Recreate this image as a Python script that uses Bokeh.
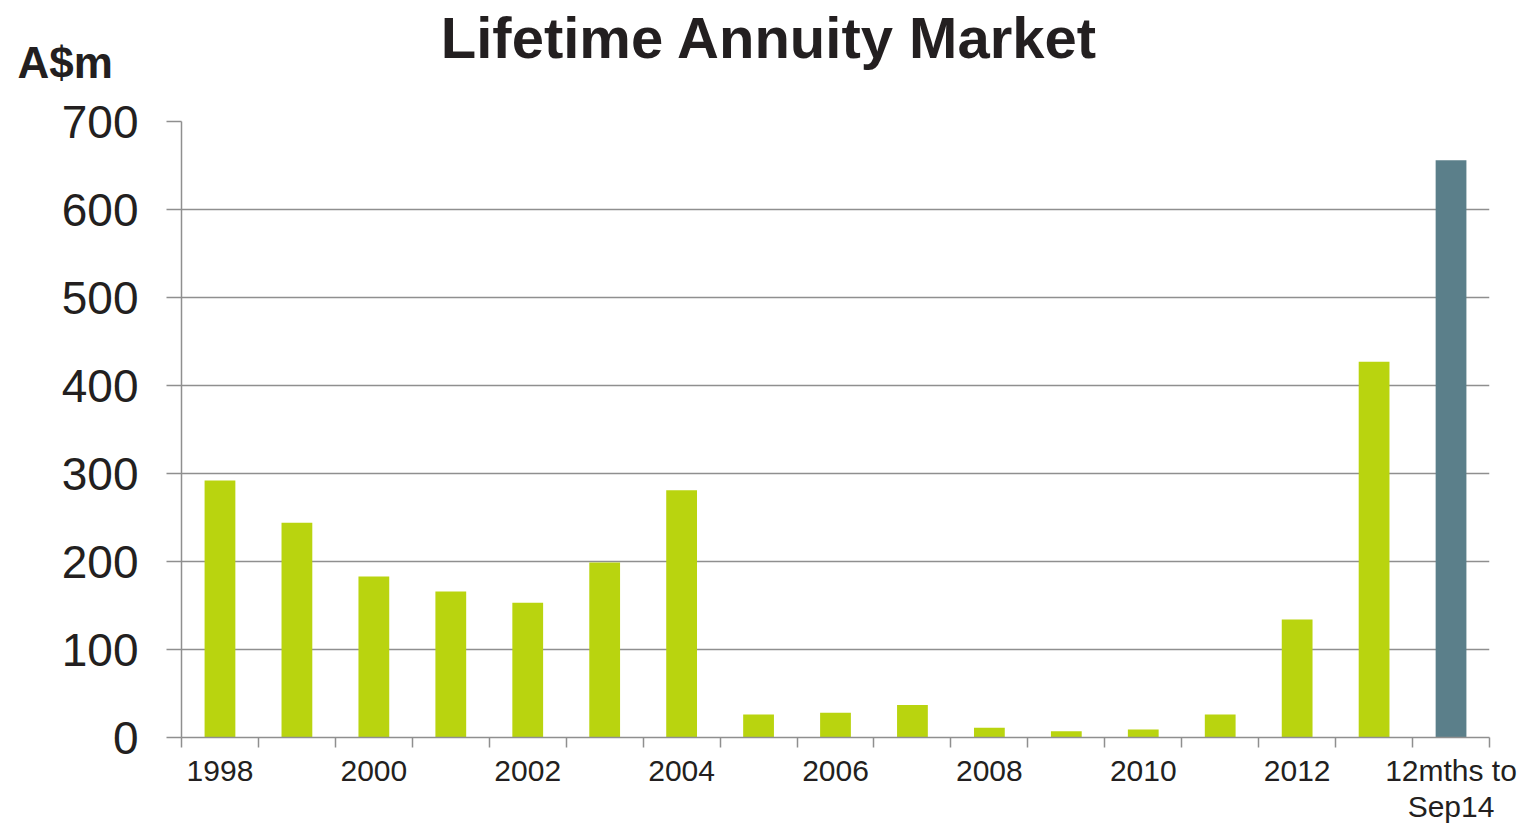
from bokeh.plotting import figure
from bokeh.models import FixedTicker, Range1d
from bokeh.layouts import column
from bokeh.core.properties import value
from bokeh.embed import file_html
from bokeh.resources import INLINE

categories = ["1998", "1999", "2000", "2001", "2002", "2003", "2004", "2005", "2006",
              "2007", "2008", "2009", "2010", "2011", "2012", "2013", "12mths to\nSep14"]
values = [292, 244, 183, 166, 153, 199, 281, 26, 28, 37, 11, 7, 9, 26, 134, 427, 656]
colors = ["#b9d40f"] * 16 + ["#5b7f8a"]
tick_labels = ["1998", "2000", "2002", "2004", "2006", "2008", "2010", "2012", "12mths to\nSep14"]
y_ticks = [0, 100, 200, 300, 400, 500, 600, 700]
chart_title = "Lifetime Annuity Market"
unit_text = "A$m"

FONT = "Liberation Sans"
TXT = "#231f20"
GRAY = "#8f8f8f"

W, H = 1523, 827
HEAD_H = 91

# ---- heading strip (title and unit label); y counts pixels down from the top ----
head = figure(width=W, height=HEAD_H, output_backend="svg", toolbar_location=None,
              title_location=None,
              x_range=Range1d(0, W), y_range=Range1d(HEAD_H, 0),
              x_axis_type=None, y_axis_type=None,
              min_border_left=0, min_border_right=0, min_border_top=0, min_border_bottom=0)
head.frame_align = False
head.outline_line_color = None
head.xgrid.visible = False
head.ygrid.visible = False
head.text(x=[769], y=[37], text=[chart_title], text_font=value(FONT),
          text_font_style="bold", text_font_size="58px", text_color=TXT,
          text_align="center", text_baseline="middle")
head.text(x=[17], y=[62], text=[unit_text], text_font=value(FONT),
          text_font_style="bold", text_font_size="44px", text_color=TXT,
          text_align="left", text_baseline="middle")

# ---- main chart ----
n = len(categories)
centers = [i + 0.5 for i in range(n)]

p = figure(width=W, height=H - HEAD_H, output_backend="svg", toolbar_location=None,
           title_location=None,
           x_range=Range1d(0, n), y_range=Range1d(0, 700),
           min_border_left=181, min_border_right=34, min_border_top=30, min_border_bottom=90)
p.frame_align = False
p.outline_line_color = None

p.vbar(x=centers, top=values, width=0.4, fill_color=colors, line_color=None)

# y axis
p.yaxis.ticker = FixedTicker(ticks=y_ticks)
p.yaxis.axis_line_color = GRAY
p.yaxis.axis_line_width = 1.5
p.yaxis.major_tick_line_color = GRAY
p.yaxis.major_tick_line_width = 1.5
p.yaxis.major_tick_out = 15
p.yaxis.major_tick_in = 0
p.yaxis.minor_tick_line_color = None
p.yaxis.major_label_text_font = FONT
p.yaxis.major_label_text_font_size = "46px"
p.yaxis.major_label_text_color = TXT
p.yaxis.major_label_standoff = 28

# x axis: labels at every other category center, ticks at category boundaries
label_pos = [centers[i] for i in range(0, n, 2)]
p.xaxis.ticker = FixedTicker(ticks=label_pos, minor_ticks=list(range(n + 1)))
p.xaxis.major_label_overrides = {pos: lab for pos, lab in zip(label_pos, tick_labels)}
p.xaxis.axis_line_color = GRAY
p.xaxis.axis_line_width = 1.5
p.xaxis.major_tick_line_color = None
p.xaxis.major_tick_out = 0
p.xaxis.major_tick_in = 0
p.xaxis.minor_tick_line_color = GRAY
p.xaxis.minor_tick_line_width = 1.5
p.xaxis.minor_tick_out = 10
p.xaxis.minor_tick_in = 0
p.xaxis.major_label_text_font = FONT
p.xaxis.major_label_text_font_size = "30px"
p.xaxis.major_label_text_color = TXT
p.xaxis.major_label_text_line_height = 1.1
p.xaxis.major_label_standoff = 6

p.xgrid.grid_line_color = None
p.ygrid.ticker = FixedTicker(ticks=y_ticks)
p.ygrid.grid_line_color = GRAY
p.ygrid.grid_line_width = 1.5

layout = column(head, p, spacing=0)
open("out.html", "w").write(file_html(layout, INLINE))
